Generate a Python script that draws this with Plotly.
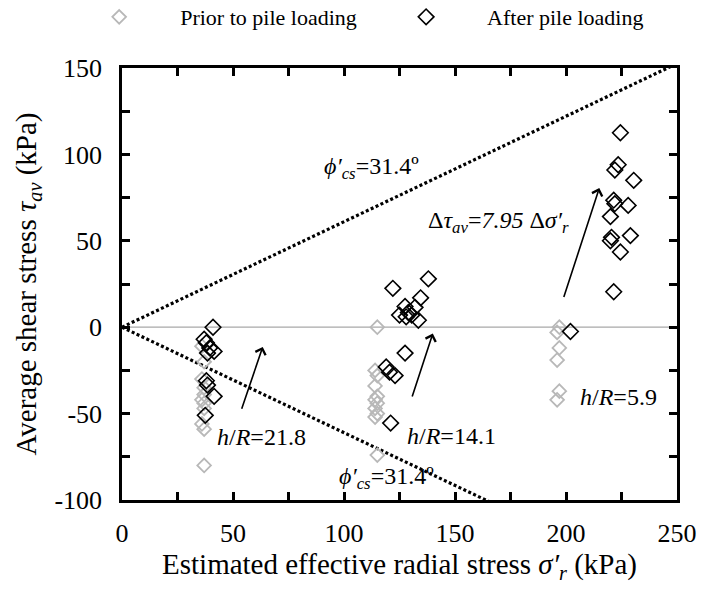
import numpy as np
import plotly.graph_objects as go

# Shear stress vs radial stress measured at three instrument levels
prior_x = [36, 37, 36, 37, 37, 36, 37, 37, 36, 37, 37,
           115, 114, 115, 114, 115, 114, 115, 114, 115, 114, 115,
           197, 196, 197, 196, 197, 196]
prior_y = [-11, -20, -30, -35, -39, -42, -44, -47, -56, -59, -80,
           0, -25, -28, -34, -40, -42, -44, -47, -50, -52, -74,
           0, -3, -12, -19, -37, -42]

after_x = [41, 37, 38, 39.5, 41.5, 38.5, 38, 38.5, 41.5, 37.5,
           122, 138, 134.5, 132, 127.5, 125, 129, 130.5, 133.5, 128, 127.5, 119, 120.5, 123, 121,
           224.5, 223.5, 222, 230.5, 221.5, 222, 228, 220, 220.5, 220, 229, 224.5, 221.5, 202]
after_y = [0, -7, -9, -12, -14, -15, -31, -33.5, -40, -51,
           22.5, 28, 17, 11.5, 12, 7, 8.5, 7, 4, 6, -15, -23, -26, -28, -55.5,
           112.5, 94, 91, 85, 73.5, 71.5, 70.5, 64, 52, 50, 53, 43.5, 20.5, -2.5]

# Critical-state friction angle envelope
phi_cs_deg = 31.4
envelope_x = [0, 250]

# Axis ticks (minor every 25, labelled every 50)
x_tickvals = [0, 25, 50, 75, 100, 125, 150, 175, 200, 225, 250]
x_ticktext = ["0", "", "50", "", "100", "", "150", "", "200", "", "250"]
y_tickvals = [-100, -75, -50, -25, 0, 25, 50, 75, 100, 125, 150]
y_ticktext = ["-100", "", "-50", "", "0", "", "50", "", "100", "", "150"]

# Arrows showing the shift of each level: (tail x, tail y, head x, head y)
arrows = [
    (53.7, -48, 63.4, -11.4),
    (130.5, -41, 140, -3.7),
    (198.8, 16.6, 215, 80.5),
]

FONT = "Times New Roman, Liberation Serif, serif"
GREY = "#b8b8b8"

fig = go.Figure()

tan_phi = np.tan(np.radians(phi_cs_deg))
for sign in (1, -1):
    fig.add_trace(go.Scatter(
        x=envelope_x, y=[sign * tan_phi * v for v in envelope_x],
        mode="lines", line=dict(color="black", width=3.2, dash="3px,2.4px"),
        showlegend=False, hoverinfo="skip"))

fig.add_trace(go.Scatter(
    x=[0, 250], y=[0, 0], mode="lines",
    line=dict(color="#a8a8a8", width=1.2), showlegend=False, hoverinfo="skip"))

fig.add_trace(go.Scatter(
    x=prior_x, y=prior_y, mode="markers", name="Prior to pile loading", legend="legend",
    marker=dict(symbol="diamond-open", size=10.5, color=GREY, line=dict(width=1.8, color=GREY))))
fig.add_trace(go.Scatter(
    x=after_x, y=after_y, mode="markers", name="After pile loading", legend="legend2",
    marker=dict(symbol="diamond-open", size=12, color="black", line=dict(width=1.6, color="black"))))

for tx, ty, hx, hy in arrows:
    fig.add_annotation(x=hx, y=hy, ax=tx, ay=ty, xref="x", yref="y", axref="x", ayref="y",
                       text="", showarrow=True, arrowhead=4, arrowsize=1.3, arrowwidth=1.6,
                       arrowcolor="black")

labels = [
    (112.6, 92, "<i>ϕ′<sub>cs</sub></i>=31.4º"),
    (119, -87, "<i>ϕ′<sub>cs</sub></i>=31.4º"),
    (169.7, 61, "Δ<i>τ<sub>av</sub></i>=<i>7.95</i> Δ<i>σ′<sub>r</sub></i>"),
    (63, -63.6, "<i>h</i>/<i>R</i>=21.8"),
    (148.6, -63, "<i>h</i>/<i>R</i>=14.1"),
    (223.5, -40.5, "<i>h</i>/<i>R</i>=5.9"),
]
for lx, ly, txt in labels:
    fig.add_annotation(x=lx, y=ly, xref="x", yref="y", text=txt, showarrow=False,
                       font=dict(family=FONT, size=24, color="black"))

axis_common = dict(
    showline=True, linecolor="black", linewidth=2.5, mirror="ticks",
    ticks="inside", ticklen=8, tickwidth=2.5, tickcolor="black",
    showgrid=False, zeroline=False,
    tickfont=dict(family=FONT, size=26, color="black"),
)

legend_common = dict(orientation="h", y=1.118, xanchor="left", yanchor="middle",
                     font=dict(family=FONT, size=22, color="black"), itemwidth=112,
                     bgcolor="rgba(0,0,0,0)")

fig.update_layout(
    width=703, height=592,
    margin=dict(l=122, r=26, t=68, b=92, autoexpand=False),
    paper_bgcolor="white", plot_bgcolor="white",
    xaxis=dict(range=[0, 250], tickmode="array", tickvals=x_tickvals, ticktext=x_ticktext,
               ticklabelstandoff=8,
               title=dict(text="Estimated effective radial stress <i>σ′<sub>r</sub></i> (kPa)",
                          font=dict(family=FONT, size=29, color="black"), standoff=6),
               **axis_common),
    yaxis=dict(range=[-100, 150], tickmode="array", tickvals=y_tickvals, ticktext=y_ticktext,
               ticklabelstandoff=12,
               title=dict(text="Average shear stress <i>τ<sub>av</sub></i> (kPa)",
                          font=dict(family=FONT, size=29, color="black"), standoff=10),
               **axis_common),
    legend=dict(x=-0.115, **legend_common),
    legend2=dict(x=0.438, **legend_common),
    showlegend=True,
)

fig.write_html("out.html")
